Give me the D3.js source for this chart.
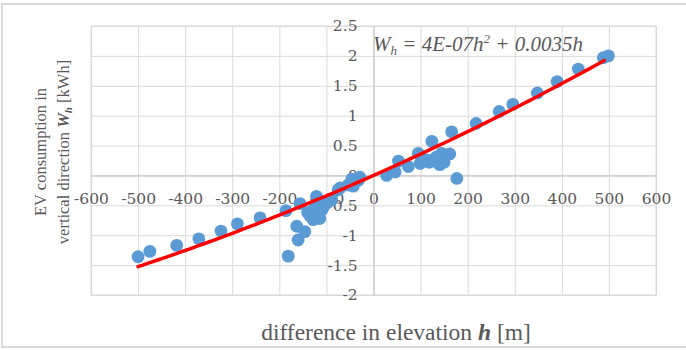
<!DOCTYPE html>
<html>
<head>
<meta charset="utf-8">
<script src="https://cdn.jsdelivr.net/npm/d3@7"></script>
<style>
  html, body { margin: 0; padding: 0; background: #fff; }
  svg { display: block; }
</style>
</head>
<body>
<svg id="chart" width="686" height="350"></svg>
<script>
// ---- data ----
const elevation = [
  -500, -475, -418, -371, -324, -289, -241,
  -181, -186, -163, -160, -156, -146, -140, -135, -128, -125, -121, -117, -114, -110, -107, -100, -89, -75, -71, -54, -46, -43, -32, -29,
  28, 46, 53, 74, 95, 99, 105, 113, 118, 124, 127, 130, 134, 138, 141, 145, 150, 162, 166, 177,
  218, 267, 296, 348, 390, 435, 488, 499
];
const consumption = [
  -1.36, -1.27, -1.17, -1.06, -0.93, -0.81, -0.71,
  -1.35, -0.59, -0.85, -1.08, -0.47, -0.94, -0.62, -0.68, -0.74, -0.55, -0.35, -0.52, -0.72, -0.58, -0.54, -0.47, -0.41, -0.24, -0.21, -0.16, -0.06, -0.18, -0.08, -0.03,
  0.00, 0.06, 0.24, 0.15, 0.37, 0.20, 0.24, 0.26, 0.22, 0.57, 0.26, 0.28, 0.31, 0.20, 0.18, 0.37, 0.22, 0.36, 0.73, -0.05,
  0.87, 1.07, 1.19, 1.38, 1.57, 1.78, 1.97, 2.00
];
// polynomial trendline (order 2, through origin) as drawn in the picture
const trendCoef = [8.8e-7, 0.00349];
const xTicks = [-600, -500, -400, -300, -200, -100, 0, 100, 200, 300, 400, 500, 600];
const xTickLabels = ["-600", "-500", "-400", "-300", "-200", "-100", "0", "100", "200", "300", "400", "500", "600"];
const yTicks = [2.5, 2, 1.5, 1, 0.5, 0, -0.5, -1, -1.5, -2];
const yTickLabels = ["2.5", "2", "1.5", "1", "0.5", "0", "-0.5", "-1", "-1.5", "-2"];

// ---- layout ----
const svg = d3.select("#chart");
const plot = { left: 91, right: 656, top: 26, bottom: 295 };
const x = d3.scaleLinear().domain([-600, 600]).range([plot.left, plot.right]);
const y = d3.scaleLinear().domain([-2, 2.5]).range([plot.bottom, plot.top]);
const gray = "#595959";
const serif = "Liberation Serif";
const tickFont = "DejaVu Serif";

// outer chart border
svg.append("rect")
  .attr("x", 2).attr("y", 4).attr("width", 700).attr("height", 343)
  .attr("fill", "none").attr("stroke", "#d9d9d9").attr("stroke-width", 2);

// gridlines
svg.append("g")
  .attr("transform", `translate(0,${plot.bottom})`)
  .call(d3.axisBottom(x).tickValues(xTicks).tickSize(-(plot.bottom - plot.top)).tickFormat(""))
  .call(g => g.select(".domain").remove())
  .call(g => g.selectAll("line").attr("stroke", "#d9d9d9"));
svg.append("g")
  .attr("transform", `translate(${plot.left},0)`)
  .call(d3.axisLeft(y).tickValues(yTicks).tickSize(-(plot.right - plot.left)).tickFormat(""))
  .call(g => g.select(".domain").remove())
  .call(g => g.selectAll("line").attr("stroke", "#d9d9d9"));
svg.append("rect")
  .attr("x", plot.left).attr("y", plot.top)
  .attr("width", plot.right - plot.left).attr("height", plot.bottom - plot.top)
  .attr("fill", "none").attr("stroke", "#d9d9d9");

// axes through the origin
const xAxis = svg.append("g")
  .attr("transform", `translate(0,${y(0)})`)
  .call(d3.axisBottom(x).tickValues(xTicks).tickSize(0).tickPadding(18)
    .tickFormat((d, i) => xTickLabels[i]))
  .attr("font-family", tickFont).attr("font-size", 15.5);
xAxis.select(".domain").attr("stroke", "#bfbfbf");
xAxis.selectAll("text").attr("fill", gray);

const yAxis = svg.append("g")
  .attr("transform", `translate(${x(0)},0)`)
  .call(d3.axisLeft(y).tickValues(yTicks).tickSize(0).tickPadding(16)
    .tickFormat((d, i) => yTickLabels[i]))
  .attr("font-family", tickFont).attr("font-size", 15.5);
yAxis.select(".domain").attr("stroke", "#bfbfbf");
yAxis.selectAll("text").attr("fill", gray);

// points
const pts = elevation.map((h, i) => ({ h, w: consumption[i] }));
svg.append("g").selectAll("circle").data(pts).join("circle")
  .attr("cx", d => x(d.h)).attr("cy", d => y(d.w)).attr("r", 6.4)
  .attr("fill", "#5b9bd5");

// trendline
const hMin = d3.min(elevation), hMax = d3.max(elevation);
const trendPts = d3.range(hMin, hMax + 0.001, 10).map(h => ({ h, w: trendCoef[0] * h * h + trendCoef[1] * h }));
svg.append("path").datum(trendPts)
  .attr("fill", "none").attr("stroke", "#ff0000").attr("stroke-width", 3.5)
  .attr("stroke-linecap", "round")
  .attr("d", d3.line().x(d => x(d.h)).y(d => y(d.w)));

// trendline equation
const eq = svg.append("text").attr("x", 373).attr("y", 51)
  .attr("fill", gray).attr("font-family", serif).style("font-size", "21px").style("font-style", "italic");
eq.append("tspan").text("W");
eq.append("tspan").attr("dy", 4).style("font-size", "13px").text("h");
eq.append("tspan").attr("dy", -4).text(" = 4E-07h");
eq.append("tspan").attr("dy", -8).style("font-size", "13px").text("2");
eq.append("tspan").attr("dy", 8).text(" + 0.0035h");

// x axis title
const xt = svg.append("text").attr("x", 396).attr("y", 340).attr("text-anchor", "middle")
  .attr("fill", gray).attr("font-family", serif).style("font-size", "23.5px");
xt.append("tspan").text("difference in elevation ");
xt.append("tspan").style("font-weight", "bold").style("font-style", "italic").text("h");
xt.append("tspan").text(" [m]");

// y axis title
const yt = svg.append("g").attr("transform", "translate(0,152) rotate(-90)");
yt.append("text").attr("x", 0).attr("y", 46).attr("text-anchor", "middle")
  .attr("fill", gray).attr("font-family", serif).style("font-size", "16.5px").text("EV consumption in");
const yt2 = yt.append("text").attr("x", 0).attr("y", 69).attr("text-anchor", "middle")
  .attr("fill", gray).attr("font-family", serif).style("font-size", "16.5px");
yt2.append("tspan").text("vertical direction ");
yt2.append("tspan").style("font-weight", "bold").style("font-style", "italic").text("W");
yt2.append("tspan").attr("dy", 3).style("font-size", "11px").style("font-weight", "bold").style("font-style", "italic").text("h");
yt2.append("tspan").attr("dy", -3).text(" [kWh]");
</script>
</body>
</html>
